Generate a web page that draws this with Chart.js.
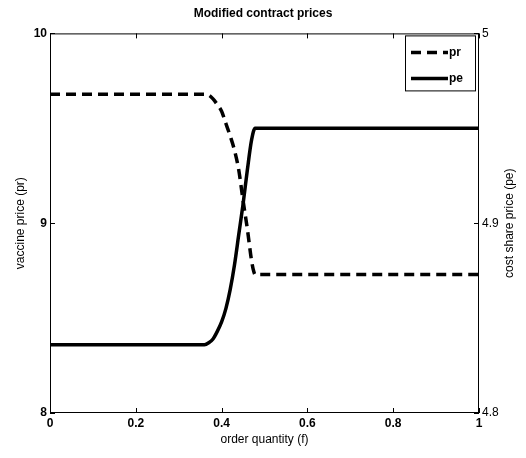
<!DOCTYPE html>
<html lang="en">
<head>
<meta charset="UTF-8">
<title>Modified contract prices</title>
<script src="https://cdn.jsdelivr.net/npm/chart.js@4.4.0/dist/chart.umd.min.js"></script>
<style>
  html, body { margin: 0; padding: 0; background: #fff; }
</style>
</head>
<body>
<canvas id="chart" width="526" height="458"></canvas>
<script>
// values
const prF    = [0, 0.36, 0.37, 0.38, 0.39, 0.40, 0.41, 0.42, 0.43, 0.44, 0.45, 0.46, 0.47, 0.475, 0.478, 1];
const prVals = [9.68, 9.68, 9.675, 9.655, 9.625, 9.59, 9.525, 9.46, 9.385, 9.28, 9.12, 8.97, 8.80, 8.745, 8.73, 8.73];
const peF    = [0, 0.36, 0.37, 0.38, 0.39, 0.40, 0.41, 0.42, 0.43, 0.44, 0.45, 0.46, 0.47, 0.478, 1];
const peVals = [4.836, 4.836, 4.837, 4.839, 4.843, 4.848, 4.855, 4.865, 4.878, 4.894, 4.91, 4.928, 4.944, 4.95, 4.95];
const xTicks  = [0, 0.2, 0.4, 0.6, 0.8, 1];
const prTicks = [8, 9, 10];
const peTicks = [4.8, 4.9, 5];

const FONT = '"Liberation Sans", Arial, sans-serif';

// box, inward ticks, right label and legend like the matlab figure
const frame = {
  id: 'frame',
  afterDraw(chart) {
    const {ctx, chartArea: a, scales} = chart;
    ctx.save();
    ctx.strokeStyle = '#000';
    ctx.lineWidth = 1;
    ctx.strokeRect(a.left + 0.5, a.top + 0.5, a.right - a.left - 1, a.bottom - a.top - 1);

    const tl = 5;
    ctx.beginPath();
    xTicks.forEach(v => {
      const px = Math.round(scales.x.getPixelForValue(v)) + 0.5;
      ctx.moveTo(px, a.bottom); ctx.lineTo(px, a.bottom - tl);
      ctx.moveTo(px, a.top); ctx.lineTo(px, a.top + tl);
    });
    prTicks.forEach(v => {
      const py = Math.round(scales.y.getPixelForValue(v)) + 0.5;
      ctx.moveTo(a.left, py); ctx.lineTo(a.left + tl, py);
    });
    peTicks.forEach(v => {
      const py = Math.round(scales.y1.getPixelForValue(v)) + 0.5;
      ctx.moveTo(a.right, py); ctx.lineTo(a.right - tl, py);
    });
    ctx.stroke();

    // right axis title, reads bottom to top
    ctx.fillStyle = '#000';
    ctx.font = '12px ' + FONT;
    ctx.textAlign = 'center';
    ctx.textBaseline = 'middle';
    ctx.translate(510, (a.top + a.bottom) / 2);
    ctx.rotate(-Math.PI / 2);
    ctx.fillText('cost share price (pe)', 0, 0);
    ctx.setTransform(1, 0, 0, 1, 0, 0);

    // legend
    const bx = a.right - 74, by = a.top + 2, bw = 70, bh = 55;
    ctx.fillStyle = '#fff';
    ctx.fillRect(bx, by, bw, bh);
    ctx.strokeRect(bx + 0.5, by + 0.5, bw, bh);
    chart.data.datasets.forEach((ds, i) => {
      const ly = by + 17 + i * 26;
      ctx.beginPath();
      ctx.lineWidth = ds.borderWidth;
      ctx.setLineDash(ds.borderDash || []);
      ctx.moveTo(bx + 6, ly);
      ctx.lineTo(bx + 43, ly);
      ctx.stroke();
      ctx.setLineDash([]);
      ctx.fillStyle = '#000';
      ctx.font = 'bold 12px ' + FONT;
      ctx.textAlign = 'left';
      ctx.textBaseline = 'middle';
      ctx.fillText(ds.label, bx + 44, ly);
    });
    ctx.restore();
  }
};

const tickFont = {family: FONT, size: 12, weight: 'bold'};
const titleFont = {family: FONT, size: 12};

new Chart(document.getElementById('chart'), {
  type: 'line',
  data: {
    datasets: [
      {
        label: 'pr',
        data: prF.map((f, i) => ({x: f, y: prVals[i]})),
        yAxisID: 'y',
        borderColor: '#000',
        borderWidth: 3.5,
        borderDash: [10, 6],
        pointRadius: 0,
        cubicInterpolationMode: 'monotone'
      },
      {
        label: 'pe',
        data: peF.map((f, i) => ({x: f, y: peVals[i]})),
        yAxisID: 'y1',
        borderColor: '#000',
        borderWidth: 3.5,
        pointRadius: 0,
        cubicInterpolationMode: 'monotone'
      }
    ]
  },
  options: {
    responsive: false,
    animation: false,
    devicePixelRatio: 1,
    layout: {padding: 0},
    plugins: {
      legend: {display: false},
      tooltip: {enabled: false},
      title: {
        display: true,
        text: 'Modified contract prices',
        color: '#000',
        font: {family: FONT, size: 12, weight: 'bold'},
        padding: {top: 6, bottom: 13}
      }
    },
    scales: {
      x: {
        type: 'linear',
        min: 0, max: 1,
        afterBuildTicks: s => { s.ticks = xTicks.map(v => ({value: v})); },
        afterFit: s => { s.height = 45; },
        grid: {display: false, drawTicks: false},
        border: {display: false},
        ticks: {color: '#000', font: tickFont, padding: 3, maxRotation: 0, autoSkip: false, callback: v => String(v)},
        title: {display: true, text: 'order quantity (f)', color: '#000', font: titleFont, padding: {top: 0, bottom: 11}}
      },
      y: {
        position: 'left',
        min: 8, max: 10,
        afterBuildTicks: s => { s.ticks = prTicks.map(v => ({value: v})); },
        afterFit: s => { s.width = 50; },
        grid: {display: false, drawTicks: false},
        border: {display: false},
        ticks: {color: '#000', font: tickFont, padding: 3},
        title: {display: true, text: 'vaccine price (pr)', color: '#000', font: titleFont, padding: {top: 13, bottom: 0}}
      },
      y1: {
        position: 'right',
        min: 4.8, max: 5,
        afterBuildTicks: s => { s.ticks = peTicks.map(v => ({value: v})); },
        afterFit: s => { s.width = 47; },
        grid: {display: false, drawTicks: false},
        border: {display: false},
        ticks: {color: '#000', font: {family: FONT, size: 12}, padding: 3, callback: v => String(v)}
      }
    }
  },
  plugins: [frame]
});
</script>
</body>
</html>
